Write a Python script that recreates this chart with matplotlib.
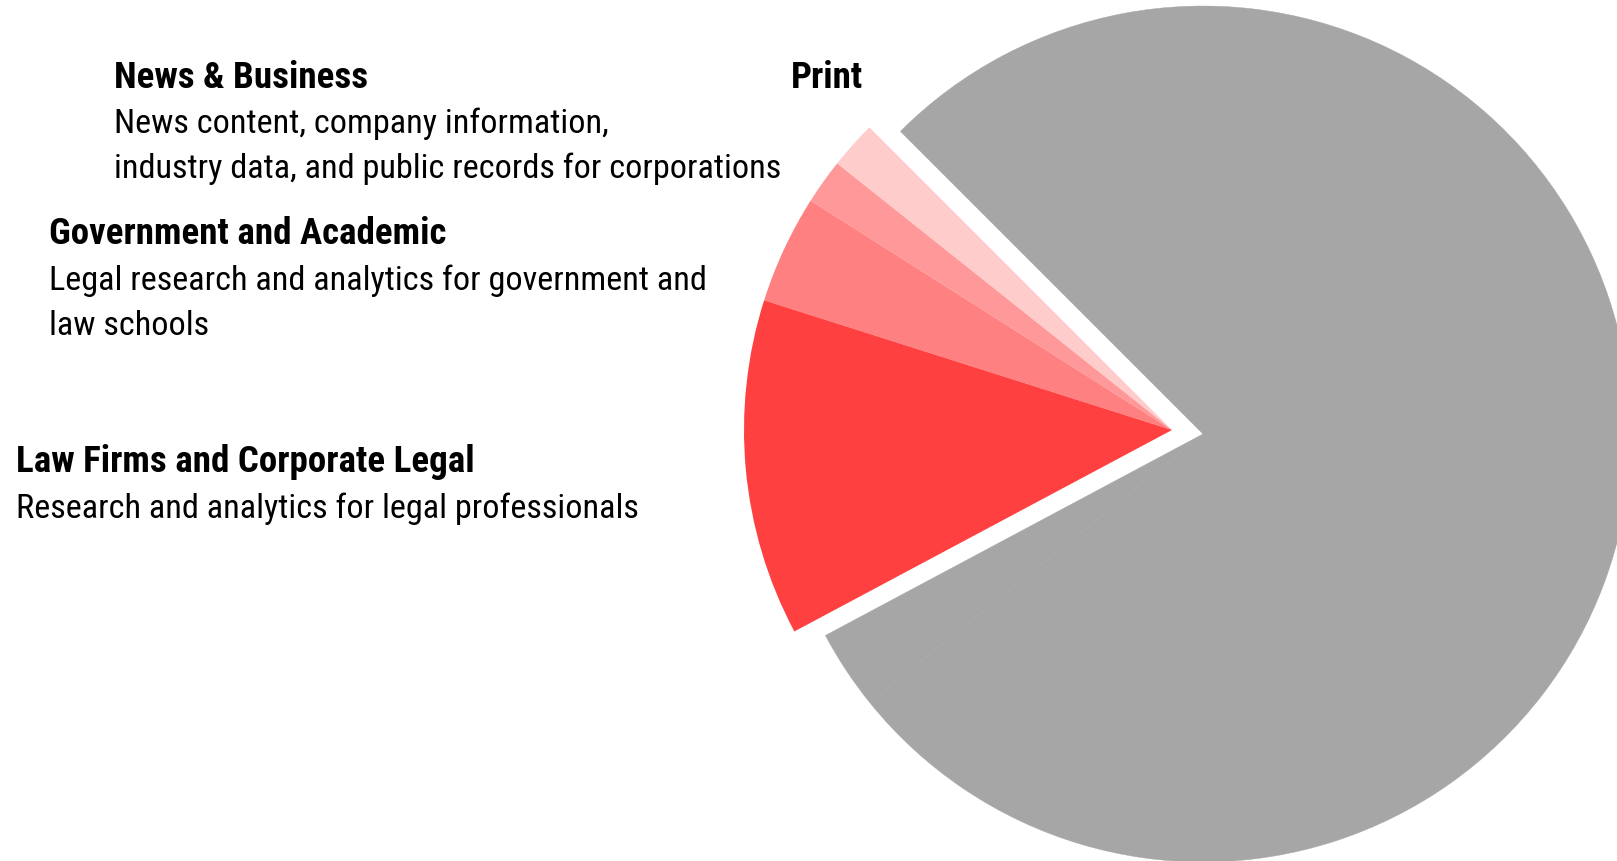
import matplotlib
matplotlib.use('Agg')
import matplotlib.pyplot as plt
from matplotlib import font_manager as fm


# segment shares (%), counterclockwise from the top-left edge
segments = ['Print', 'News & Business', 'Government and Academic',
            'Law Firms and Corporate Legal', 'Other A', 'Other B']
shares = [1.8, 1.7, 4.1, 12.7, 3.0, 76.7]
colors = ['#ffcccc', '#ff9999', '#ff8080', '#ff4040', '#a6a6a6', '#a6a6a6']
highlight = [True, True, True, True, False, False]

titles = ['Print', 'News & Business', 'Government and Academic',
          'Law Firms and Corporate Legal']
descriptions = [[],
                ['News content, company information,',
                 'industry data, and public records for corporations'],
                ['Legal research and analytics for government and',
                 'law schools'],
                ['Research and analytics for legal professionals']]


def narrow_font(bold):
    # look for a condensed sans face (the original uses an Arial Narrow look)
    prefs = ['Liberation Sans Narrow', 'Roboto Condensed', 'Open Sans Condensed',
             'DejaVu Sans']
    found = {}
    for f in fm.fontManager.ttflist:
        tag = (f.name + ' ' + str(f.stretch) + ' ' + f.fname).lower()
        if 'narrow' not in tag and 'condensed' not in tag:
            continue
        if 'mono' in tag or 'serif' in f.name.lower() or f.style != 'normal':
            continue
        w = f.weight if isinstance(f.weight, int) else \
            {'bold': 700, 'normal': 400, 'regular': 400}.get(str(f.weight), 400)
        if bold != (w >= 600):
            continue
        found.setdefault(f.name, f.fname)
    for p in prefs:
        if p in found:
            return fm.FontProperties(fname=found[p])
    if found:
        return fm.FontProperties(fname=list(found.values())[0])
    return fm.FontProperties(family='Liberation Sans',
                             weight='bold' if bold else 'normal')


def fit_size(ax, renderer, s, prop, target):
    probe = ax.text(0, 0, s, fontproperties=prop, fontsize=20)
    pw = probe.get_window_extent(renderer).width
    probe.remove()
    return 20 * target / pw


if __name__ == '__main__':

    W, H = 1617, 862
    fig = plt.figure(figsize=(W / 100, H / 100), dpi=100)
    ax = fig.add_axes([0, 0, 1, 1])

    cx, cy, R = 1203, H - 435, 428
    wedges, _ = ax.pie(shares, colors=colors, startangle=135, counterclock=True,
                       radius=R, center=(cx, cy),
                       wedgeprops=dict(linewidth=0))

    # pull the red group out together, toward its bisector
    shift_x, shift_y = -31, 4
    for w, hl, c in zip(wedges, highlight, colors):
        if hl:
            w.set_center((cx + shift_x, cy + shift_y))
        else:
            w.set_edgecolor(c)
            w.set_linewidth(0.3)

    ax.set_xlim(0, W)
    ax.set_ylim(0, H)
    ax.set_aspect('equal')
    ax.axis('off')

    f_bold = narrow_font(True)
    f_reg = narrow_font(False)

    # size the type so the longest lines span the same width as the original
    renderer = fig.canvas.get_renderer()
    fs = fit_size(ax, renderer, descriptions[1][1], f_reg, 664)
    fs_b = fit_size(ax, renderer, titles[3], f_bold, 458)

    # (left x, title baseline) in pixels from top
    pos = [(791, 88), (114, 88), (49, 244.5), (16, 472.5)]
    body_first = [None, 133, 290, 518]
    step = 45.4
    for t, lines, (x, yt), yb in zip(titles, descriptions, pos, body_first):
        ax.text(x, H - yt, t, fontproperties=f_bold, fontsize=fs_b,
                ha='left', va='baseline')
        for i, ln in enumerate(lines):
            ax.text(x, H - (yb + i * step), ln, fontproperties=f_reg,
                    fontsize=fs, ha='left', va='baseline')

    plt.savefig('out.png', dpi=100)
